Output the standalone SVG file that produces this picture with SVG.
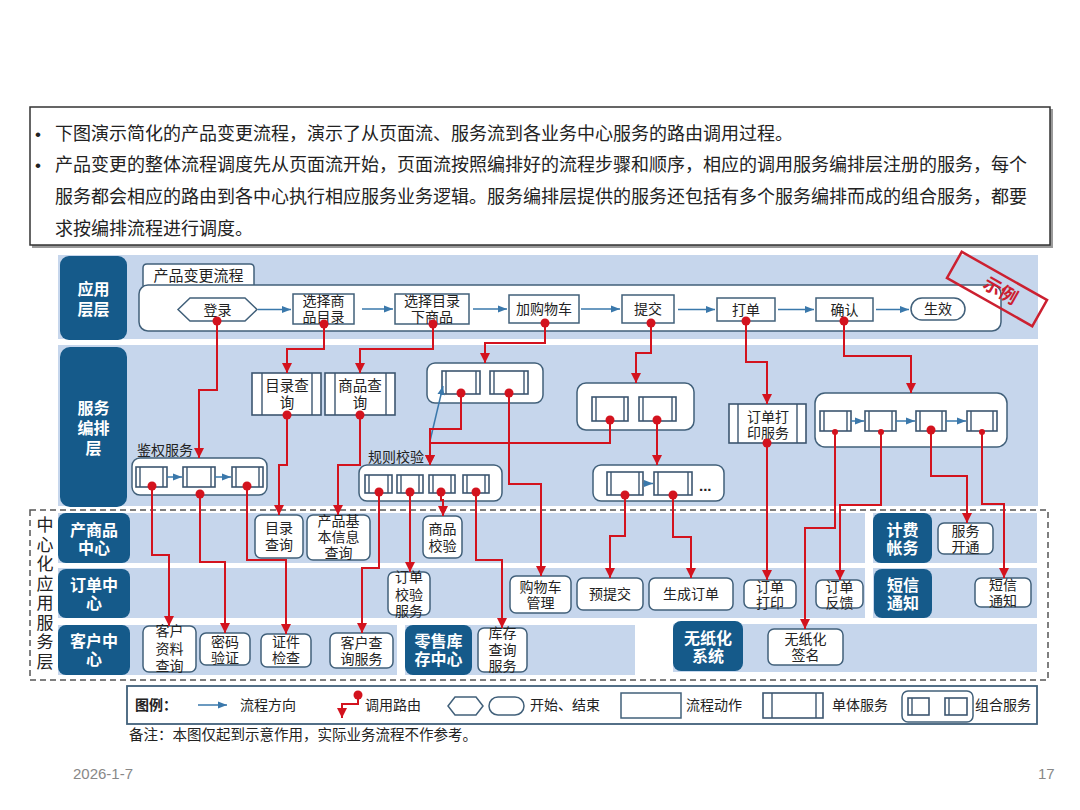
<svg xmlns="http://www.w3.org/2000/svg" width="1080" height="810" viewBox="0 0 1080 810">
<defs>
<style>
text{font-family:"Liberation Sans","Noto Sans CJK SC",sans-serif;fill:#222}
.c{text-anchor:middle;dominant-baseline:central}
.m{dominant-baseline:central}
.band{fill:#c6d6ec}
.blk{fill:#155a8a}
.bt{fill:#fff;font-weight:bold;font-size:16px}
.node{fill:#fff;stroke:#41607a;stroke-width:1.5}
.sb{fill:#fff;stroke:#3c5670;stroke-width:1.6}
.il{fill:none;stroke:#3c5670;stroke-width:1.4}
.nt{font-size:14px}
.route{fill:none;stroke:#d3131e;stroke-width:2;marker-end:url(#ra)}
.dot{fill:#d3131e}
.flow{fill:none;stroke:#3a78ab;stroke-width:1.5;marker-end:url(#fa)}
.top{font-size:18px}
</style>
<marker id="ra" viewBox="0 0 10 10" refX="10" refY="5" markerWidth="10" markerHeight="10" markerUnits="userSpaceOnUse" orient="auto"><path d="M0,0 L10,5 L0,10z" fill="#d3131e"/></marker>
<marker id="fa" viewBox="0 0 10 10" refX="10" refY="5" markerWidth="9" markerHeight="9" markerUnits="userSpaceOnUse" orient="auto"><path d="M0,1 L10,5 L0,9z" fill="#3a78ab"/></marker>
</defs>
<rect width="1080" height="810" fill="#fff"/>

<!-- top description -->
<g id="desc">
<rect x="32" y="109" width="1021" height="139" fill="#9a9a9a"/>
<rect x="30" y="107" width="1020" height="138" fill="#fff" stroke="#333" stroke-width="1.5"/>
<text class="m" font-size="17"><tspan x="35" y="134">•</tspan><tspan x="35" y="165">•</tspan></text>
<text class="m top"><tspan x="55" y="134">下图演示简化的产品变更流程，演示了从页面流、服务流到各业务中心服务的路由调用过程。</tspan><tspan x="55" y="165">产品变更的整体流程调度先从页面流开始，页面流按照编排好的流程步骤和顺序，相应的调用服务编排层注册的服务，每个</tspan><tspan x="55" y="197">服务都会相应的路由到各中心执行相应服务业务逻辑。服务编排层提供的服务还包括有多个服务编排而成的组合服务，都要</tspan><tspan x="55" y="229">求按编排流程进行调度。</tspan></text>
</g>

<!-- bands -->
<g id="bands">
<rect class="band" x="58" y="255" width="980" height="84"/>
<rect class="band" x="58" y="345" width="980" height="161"/>
<rect class="band" x="58" y="513" width="807" height="50"/>
<rect class="band" x="873" y="513" width="164" height="50"/>
<rect class="band" x="58" y="568" width="807" height="50"/>
<rect class="band" x="873" y="568" width="164" height="50"/>
<rect class="band" x="58" y="625" width="339" height="50"/>
<rect class="band" x="405" y="625" width="230" height="50"/>
<rect class="band" x="673" y="624" width="364" height="48"/>
</g>

<!-- layer blocks -->
<g id="layer-app"><rect class="blk" x="60" y="256" width="67" height="84" rx="9"/><text class="c bt"><tspan x="93.5" y="289">应用</tspan><tspan x="93.5" y="309">层层</tspan></text></g>
<g id="layer-svc"><rect class="blk" x="60" y="347" width="67" height="160" rx="10"/><text class="c bt"><tspan x="93.5" y="408">服务</tspan><tspan x="93.5" y="428">编排</tspan><tspan x="93.5" y="448">层</tspan></text></g>
<g id="center-layer">
<rect x="30" y="510" width="1018" height="170" fill="none" stroke="#555" stroke-width="1.5" stroke-dasharray="6,4"/>
<text class="c" font-size="17"><tspan x="45" y="525">中</tspan><tspan x="45" y="544.5">心</tspan><tspan x="45" y="564">化</tspan><tspan x="45" y="583.5">应</tspan><tspan x="45" y="603">用</tspan><tspan x="45" y="622.5">服</tspan><tspan x="45" y="642">务</tspan><tspan x="45" y="661.5">层</tspan></text>
</g>
<g id="blk-product"><rect class="blk" x="58" y="513" width="72" height="50" rx="8"/><text class="c bt"><tspan x="94" y="530">产商品</tspan><tspan x="94" y="548">中心</tspan></text></g>
<g id="blk-order"><rect class="blk" x="58" y="569" width="72" height="49" rx="8"/><text class="c bt"><tspan x="94" y="585">订单中</tspan><tspan x="94" y="603">心</tspan></text></g>
<g id="blk-customer"><rect class="blk" x="58" y="625" width="72" height="50" rx="8"/><text class="c bt"><tspan x="94" y="641">客户中</tspan><tspan x="94" y="659">心</tspan></text></g>
<g id="blk-stock"><rect class="blk" x="405" y="625" width="67" height="50" rx="8"/><text class="c bt"><tspan x="438.5" y="641">零售库</tspan><tspan x="438.5" y="659">存中心</tspan></text></g>
<g id="blk-paperless"><rect class="blk" x="673" y="621" width="70" height="50" rx="8"/><text class="c bt"><tspan x="708" y="638">无纸化</tspan><tspan x="708" y="656">系统</tspan></text></g>
<g id="blk-billing"><rect class="blk" x="873" y="513" width="59" height="50" rx="8"/><text class="c bt"><tspan x="902.5" y="530">计费</tspan><tspan x="902.5" y="548">帐务</tspan></text></g>
<g id="blk-sms"><rect class="blk" x="874" y="569" width="58" height="49" rx="8"/><text class="c bt"><tspan x="903" y="585">短信</tspan><tspan x="903" y="603">通知</tspan></text></g>

<!-- application flow -->
<g id="flow-container">
<path d="M143,286 V268 Q143,264 147,264 H250 Q254,264 254,268 V286" fill="#fff" stroke="#41607a" stroke-width="1.5"/>
<text class="c" x="198.5" y="275.5" font-size="15">产品变更流程</text>
<rect x="139" y="285" width="862" height="46" rx="9" fill="#fff" stroke="#41607a" stroke-width="1.5"/>
</g>
<g id="p-login"><polygon class="node" points="178,309.5 190,298 245,298 257,309.5 245,321 190,321"/><text class="c nt" x="217.5" y="309.5">登录</text></g>
<g id="p-selcat"><rect class="node" x="293" y="294" width="61" height="30"/><text class="c nt"><tspan x="323.5" y="301">选择商</tspan><tspan x="323.5" y="317">品目录</tspan></text></g>
<g id="p-selgoods"><rect class="node" x="395" y="294" width="74" height="30"/><text class="c nt"><tspan x="432" y="301">选择目录</tspan><tspan x="432" y="317">下商品</tspan></text></g>
<g id="p-cart"><rect class="node" x="509" y="295" width="70" height="28"/><text class="c nt" x="544" y="309">加购物车</text></g>
<g id="p-submit"><rect class="node" x="622" y="295" width="52" height="28"/><text class="c nt" x="648" y="309">提交</text></g>
<g id="p-print"><rect class="node" x="717" y="298" width="58" height="23"/><text class="c nt" x="746" y="309.5">打单</text></g>
<g id="p-confirm"><rect class="node" x="816" y="298" width="57" height="23"/><text class="c nt" x="844.5" y="309.5">确认</text></g>
<g id="p-effect"><rect class="node" x="911" y="298" width="54" height="22" rx="11"/><text class="c nt" x="938" y="309">生效</text></g>

<!-- stamp -->
<g id="stamp" transform="translate(997,289) rotate(29.5)">
<rect x="-49" y="-15" width="98" height="30" fill="none" stroke="#cc2030" stroke-width="2.5"/>
<text class="c" x="4" y="0" font-size="18" font-weight="bold" style="fill:#cc2030">示例</text>
</g>

<!-- service layer -->
<g id="s-auth">
<text class="m" x="137" y="450" font-size="14">鉴权服务</text>
<rect class="node" x="132" y="458" width="135" height="37" rx="8"/>
<rect class="sb" x="136" y="467" width="31" height="20"/><path class="il" d="M140,467 V487 M163,467 V487"/>
<rect class="sb" x="183" y="467" width="32" height="20"/><path class="il" d="M187,467 V487 M211,467 V487"/>
<rect class="sb" x="232" y="467" width="31" height="20"/><path class="il" d="M236,467 V487 M259,467 V487"/>
</g>
<g id="s-catq"><rect class="sb" x="252" y="373" width="69" height="42"/><path class="il" d="M262,373 V415 M312,373 V415"/><text class="c" font-size="14.5"><tspan x="287" y="386">目录查</tspan><tspan x="287" y="403">询</tspan></text></g>
<g id="s-goodsq"><rect class="sb" x="325" y="373" width="70" height="42"/><path class="il" d="M335,373 V415 M386,373 V415"/><text class="c" font-size="14.5"><tspan x="360" y="386">商品查</tspan><tspan x="360" y="403">询</tspan></text></g>
<g id="s-compA">
<rect class="node" x="427" y="363" width="116" height="40" rx="8"/>
<rect class="sb" x="442" y="371" width="38" height="23"/><path class="il" d="M446,371 V394 M476,371 V394"/>
<rect class="sb" x="490" y="371" width="38" height="23"/><path class="il" d="M494,371 V394 M524,371 V394"/>
</g>
<g id="s-rule">
<text class="m" x="368" y="457" font-size="14">规则校验</text>
<rect class="node" x="359" y="465" width="143" height="36" rx="8"/>
<rect class="sb" x="365" y="475" width="27" height="18"/><path class="il" d="M369,475 V493 M388,475 V493"/>
<rect class="sb" x="397" y="475" width="26" height="18"/><path class="il" d="M401,475 V493 M419,475 V493"/>
<rect class="sb" x="429" y="475" width="26" height="18"/><path class="il" d="M433,475 V493 M451,475 V493"/>
<rect class="sb" x="463" y="475" width="26" height="18"/><path class="il" d="M467,475 V493 M485,475 V493"/>
</g>
<g id="s-compB">
<rect class="node" x="577" y="383" width="117" height="47" rx="9"/>
<rect class="sb" x="592" y="397" width="36" height="24"/><path class="il" d="M596,397 V421 M624,397 V421"/>
<rect class="sb" x="639" y="397" width="37" height="24"/><path class="il" d="M643,397 V421 M672,397 V421"/>
</g>
<g id="s-compC">
<rect class="node" x="593" y="465" width="131" height="36" rx="8"/>
<rect class="sb" x="607" y="472" width="36" height="23"/><path class="il" d="M611,472 V495 M639,472 V495"/>
<rect class="sb" x="654" y="472" width="38" height="23"/><path class="il" d="M658,472 V495 M688,472 V495"/>
<text x="699" y="491" font-size="15" font-weight="bold">...</text>
</g>
<g id="s-print"><rect class="sb" x="729" y="404" width="77" height="39"/><path class="il" d="M738,404 V443 M797,404 V443"/><text class="c" font-size="14"><tspan x="768" y="416.5">订单打</tspan><tspan x="768" y="432.5">印服务</tspan></text></g>
<g id="s-compD">
<rect class="node" x="815" y="393" width="192" height="54" rx="10"/>
<rect class="sb" x="820" y="411" width="31" height="20"/><path class="il" d="M824,411 V431 M847,411 V431"/>
<rect class="sb" x="865" y="411" width="31" height="20"/><path class="il" d="M869,411 V431 M892,411 V431"/>
<rect class="sb" x="916" y="411" width="30" height="20"/><path class="il" d="M920,411 V431 M942,411 V431"/>
<rect class="sb" x="967" y="411" width="30" height="20"/><path class="il" d="M971,411 V431 M993,411 V431"/>
</g>

<!-- center nodes -->
<g id="c-catq"><rect class="node" x="255" y="515" width="48" height="43" rx="6"/><text class="c nt"><tspan x="279" y="528">目录</tspan><tspan x="279" y="545">查询</tspan></text></g>
<g id="c-prodinfo"><rect class="node" x="307" y="515" width="63" height="45" rx="6"/><text class="c nt"><tspan x="338.5" y="521">产品基</tspan><tspan x="338.5" y="537">本信息</tspan><tspan x="338.5" y="553">查询</tspan></text></g>
<g id="c-goodschk"><rect class="node" x="423" y="516" width="39" height="42" rx="6"/><text class="c nt"><tspan x="442.5" y="529">商品</tspan><tspan x="442.5" y="546">校验</tspan></text></g>
<g id="c-orderchk"><rect class="node" x="388" y="572" width="42" height="43" rx="6"/><text class="c nt"><tspan x="409" y="577">订单</tspan><tspan x="409" y="595">校验</tspan><tspan x="409" y="611">服务</tspan></text></g>
<g id="c-cart"><rect class="node" x="510" y="576" width="61" height="37" rx="6"/><text class="c nt"><tspan x="540.5" y="587">购物车</tspan><tspan x="540.5" y="603">管理</tspan></text></g>
<g id="c-presubmit"><rect class="node" x="577" y="578" width="66" height="32" rx="6"/><text class="c nt" x="610" y="594">预提交</text></g>
<g id="c-genorder"><rect class="node" x="649" y="578" width="84" height="32" rx="6"/><text class="c nt" x="691" y="594">生成订单</text></g>
<g id="c-orderprint"><rect class="node" x="744" y="580" width="52" height="28" rx="6"/><text class="c nt"><tspan x="770" y="586.5">订单</tspan><tspan x="770" y="602.5">打印</tspan></text></g>
<g id="c-feedback"><rect class="node" x="816" y="580" width="47" height="28" rx="6"/><text class="c nt"><tspan x="839.5" y="586.5">订单</tspan><tspan x="839.5" y="602.5">反馈</tspan></text></g>
<g id="c-open"><rect class="node" x="938" y="523" width="55" height="31" rx="6"/><text class="c nt"><tspan x="965.5" y="530.5">服务</tspan><tspan x="965.5" y="546.5">开通</tspan></text></g>
<g id="c-sms"><rect class="node" x="975" y="578" width="56" height="29" rx="6"/><text class="c nt"><tspan x="1003" y="585">短信</tspan><tspan x="1003" y="601">通知</tspan></text></g>
<g id="c-sign"><rect class="node" x="768" y="629" width="75" height="36" rx="6"/><text class="c nt"><tspan x="805.5" y="639">无纸化</tspan><tspan x="805.5" y="655">签名</tspan></text></g>
<g id="c-custinfo"><rect class="node" x="143" y="626" width="53" height="46" rx="6"/><text class="c nt"><tspan x="169.5" y="631">客户</tspan><tspan x="169.5" y="649">资料</tspan><tspan x="169.5" y="666">查询</tspan></text></g>
<g id="c-pwd"><rect class="node" x="200" y="633" width="50" height="32" rx="6"/><text class="c nt"><tspan x="225" y="641.5">密码</tspan><tspan x="225" y="657.5">验证</tspan></text></g>
<g id="c-idchk"><rect class="node" x="261" y="634" width="50" height="33" rx="6"/><text class="c nt"><tspan x="286" y="642">证件</tspan><tspan x="286" y="658">检查</tspan></text></g>
<g id="c-custq"><rect class="node" x="330" y="633" width="63" height="35" rx="6"/><text class="c nt"><tspan x="361.5" y="643">客户查</tspan><tspan x="361.5" y="659">询服务</tspan></text></g>
<g id="c-stockq"><rect class="node" x="478" y="628" width="49" height="44" rx="6"/><text class="c nt"><tspan x="502.5" y="633">库存</tspan><tspan x="502.5" y="650">查询</tspan><tspan x="502.5" y="666">服务</tspan></text></g>

<!-- connectors -->
<g id="connectors">
<g id="flow-arrows">
<path class="flow" d="M258,309.5 H291"/>
<path class="flow" d="M362,309 H393"/>
<path class="flow" d="M473,309 H507"/>
<path class="flow" d="M581,309 H620"/>
<path class="flow" d="M678,309.5 H715"/>
<path class="flow" d="M778,309.5 H814"/>
<path class="flow" d="M876,309.5 H909"/>
<path class="flow" d="M167,477 H182"/>
<path class="flow" d="M215,477 H231"/>
<path class="flow" d="M643,483.5 H653"/>
<path class="flow" d="M851,421 H864"/>
<path class="flow" d="M896,421 H915"/>
<path class="flow" d="M946,421 H966"/>
<path class="flow" d="M430,441 L443,386" stroke-width="1.2"/>
</g>
<g id="routes">
<path class="route" d="M217,321 V390 H199 V458"/>
<path class="route" d="M324,324 V349 H287 V373"/>
<path class="route" d="M433,324 V349 H360 V373"/>
<path class="route" d="M545,323 V343 H485 V363"/>
<path class="route" d="M651,323 V353 H636 V383"/>
<path class="route" d="M746,321 V362 H767 V404"/>
<path class="route" d="M844,321 V356 H911 V393"/>
<path class="route" d="M152,486 V555 H169 V626"/>
<path class="route" d="M200,494 V562 H225 V633"/>
<path class="route" d="M247,486 V560 H286 V634"/>
<path class="route" d="M287,415 V465 H279 V515"/>
<path class="route" d="M360,415 V465 H338 V515"/>
<path class="route" d="M461,393 V429 H430 V465"/>
<path class="route" d="M610,420 V443 H430 V465"/>
<path class="route" d="M509,393 V484 H541 V576"/>
<path class="route" d="M379,492 V568 H362 V633"/>
<path class="route" d="M410,492 V572"/>
<path class="route" d="M441,492 V500 H443 V516"/>
<path class="route" d="M476,492 V560 H502 V628"/>
<path class="route" d="M657,420 V465"/>
<path class="route" d="M625,495 V536 H610 V578"/>
<path class="route" d="M673,495 V537 H691 V578"/>
<path class="route" d="M767,443 V580"/>
<path class="route" d="M835,432 V528 H805 V629"/>
<path class="route" d="M881,432 V505 H840 V580"/>
<path class="route" d="M931,430 V476 H967 V523"/>
<path class="route" d="M982,432 V504 H1004 V578"/>
</g>
<g id="dots">
<circle class="dot" cx="217" cy="321" r="4.5"/><circle class="dot" cx="324" cy="324" r="4.5"/><circle class="dot" cx="433" cy="324" r="4.5"/><circle class="dot" cx="545" cy="323" r="4.5"/><circle class="dot" cx="651" cy="323" r="4.5"/><circle class="dot" cx="746" cy="321" r="4.5"/><circle class="dot" cx="844" cy="321" r="4.5"/>
<circle class="dot" cx="152" cy="486" r="4.5"/><circle class="dot" cx="200" cy="494" r="4.5"/><circle class="dot" cx="247" cy="486" r="4.5"/>
<circle class="dot" cx="287" cy="415" r="4.5"/><circle class="dot" cx="360" cy="415" r="4.5"/>
<circle class="dot" cx="461" cy="393" r="4.5"/><circle class="dot" cx="509" cy="393" r="4.5"/>
<circle class="dot" cx="379" cy="492" r="4.5"/><circle class="dot" cx="410" cy="492" r="4.5"/><circle class="dot" cx="441" cy="492" r="4.5"/><circle class="dot" cx="476" cy="492" r="4.5"/>
<circle class="dot" cx="610" cy="420" r="4.5"/><circle class="dot" cx="657" cy="420" r="4.5"/>
<circle class="dot" cx="625" cy="495" r="4.5"/><circle class="dot" cx="673" cy="495" r="4.5"/>
<circle class="dot" cx="767" cy="443" r="4.5"/>
<circle class="dot" cx="835" cy="432" r="3"/><circle class="dot" cx="881" cy="432" r="3"/><circle class="dot" cx="931" cy="430" r="4.5"/><circle class="dot" cx="982" cy="432" r="3"/>
</g>
</g>

<!-- legend -->
<g id="legend">
<rect x="127" y="686" width="910" height="38" fill="#fff" stroke="#41607a" stroke-width="1.8"/>
<text class="m" x="135" y="705" font-size="14" font-weight="bold">图例：</text>
<path class="flow" d="M198,705 H227"/>
<text class="m" x="240" y="705" font-size="14">流程方向</text>
<path class="route" d="M358,695 V704 H342 V718"/>
<circle class="dot" cx="358" cy="695" r="4.5"/>
<text class="m" x="365" y="705" font-size="14">调用路由</text>
<polygon points="448,706 455,697 476,697 483,706 476,715 455,715" fill="#fff" stroke="#41607a" stroke-width="1.5"/>
<rect x="489" y="697" width="35" height="18" rx="9" fill="#fff" stroke="#41607a" stroke-width="1.5"/>
<text class="m" x="530" y="705" font-size="14">开始、结束</text>
<rect x="621" y="693" width="60" height="25" fill="#fff" stroke="#41607a" stroke-width="1.5"/>
<text class="m" x="686" y="705" font-size="14">流程动作</text>
<rect class="sb" x="763" y="693" width="60" height="25"/><path class="il" d="M772,693 V718 M816,693 V718"/>
<text class="m" x="832" y="705" font-size="14">单体服务</text>
<rect class="node" x="902" y="691" width="71" height="31" rx="6"/>
<rect class="sb" x="908" y="698" width="21" height="17"/><path class="il" d="M912,698 V715"/>
<rect class="sb" x="945" y="698" width="22" height="17"/><path class="il" d="M949,698 V715"/>
<text class="m" x="975" y="705" font-size="14">组合服务</text>
</g>
<text class="m" x="129" y="735" font-size="14.5">备注：本图仅起到示意作用，实际业务流程不作参考。</text>

<!-- footer -->
<text class="m" x="73" y="773" font-size="15" style="fill:#888">2026-1-7</text>
<text class="m" x="1038" y="773" font-size="15" style="fill:#888">17</text>
</svg>
